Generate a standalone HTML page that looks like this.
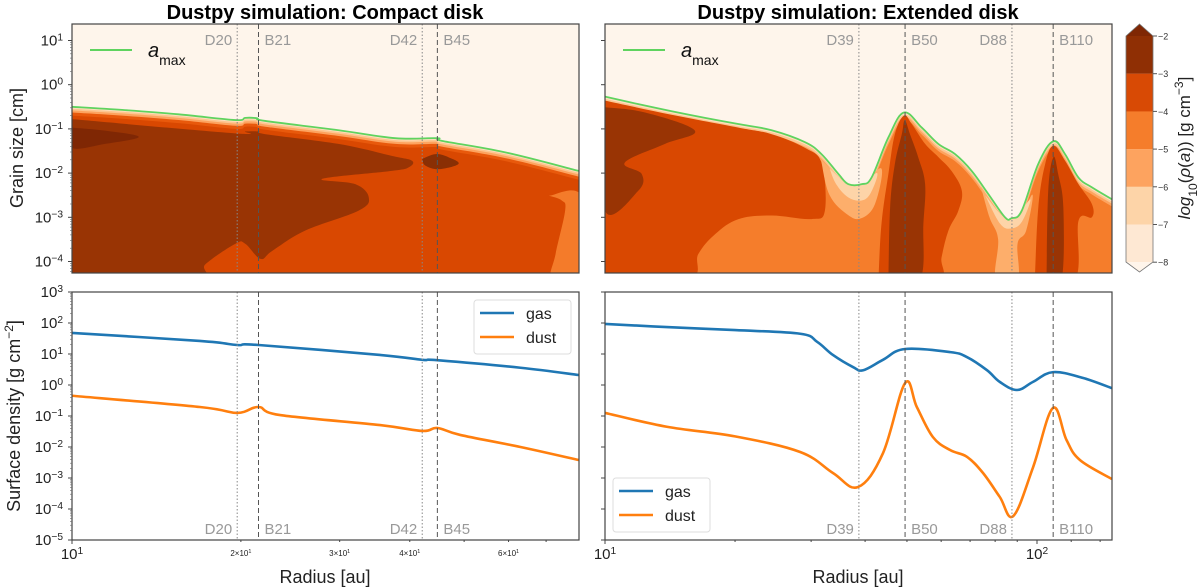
<!DOCTYPE html>
<html><head><meta charset="utf-8">
<style>
html,body{margin:0;padding:0;background:#fff;}
svg{display:block;font-family:"Liberation Sans","DejaVu Sans",sans-serif;}
</style></head>
<body>
<svg id="fig" width="1200" height="587" viewBox="0 0 1200 587" xmlns="http://www.w3.org/2000/svg">
<defs>
<clipPath id="cTL"><rect x="72" y="24" width="507" height="249"/></clipPath>
<clipPath id="cTR"><rect x="605" y="24" width="507" height="249"/></clipPath>
<clipPath id="cBL"><rect x="72" y="292" width="507" height="248"/></clipPath>
<clipPath id="cBR"><rect x="605" y="292" width="507" height="248"/></clipPath>
</defs>
<text x="325" y="19" text-anchor="middle" font-size="20" font-weight="bold">Dustpy simulation: Compact disk</text>
<text x="858" y="19" text-anchor="middle" font-size="20" font-weight="bold">Dustpy simulation: Extended disk</text>
<text transform="translate(23,148) rotate(-90)" text-anchor="middle" font-size="18" fill="#222">Grain size [cm]</text>
<text transform="translate(20,416) rotate(-90)" text-anchor="middle" font-size="18" fill="#222">Surface density [g cm<tspan baseline-shift="super" font-size="12">−2</tspan>]</text>
<text x="325" y="583" text-anchor="middle" font-size="18" fill="#222">Radius [au]</text>
<text x="858" y="583" text-anchor="middle" font-size="18" fill="#222">Radius [au]</text>
<text transform="translate(1190,148) rotate(-90)" text-anchor="middle" font-size="17" fill="#222"><tspan font-style="italic">log</tspan><tspan baseline-shift="sub" font-size="12">10</tspan>(<tspan font-style="italic">ρ</tspan>(<tspan font-style="italic">a</tspan>)) [g cm<tspan baseline-shift="super" font-size="12">−3</tspan>]</text>
<g id="root"></g>
</svg>
<script>
// ---------- data ----------
const ringLabelsL = ["D20","B21","D42","B45"];
const ringRadiiL = [19.7,21.5,42.1,44.8];
const ringLabelsR = ["D39","B50","D88","B110"];
const ringRadiiR = [38.7,49.5,87.5,109];

const gasRL = [10,16.9,19.7,21.5,35.4,42.1,44.8,63,80];
const gasSL = [47.9,26.3,19.5,19.5,9.3,6.5,6.3,3.6,2.1];
const dustRL = [10,16.9,19.7,21.5,23.5,35.4,42.1,44.8,49.2,63,80];
const dustSL = [0.45,0.195,0.126,0.195,0.107,0.051,0.033,0.041,0.0245,0.01,0.0038];

const gasRR = [10,13.9,20,28.3,31,33.7,37.5,39.6,44,49.5,63,68.9,76.6,82,89.9,97.9,109,127.6,149];
const gasSR = [93,74,59,45,24.5,9.3,3.8,3.0,6.5,14.5,11.5,7.9,3.0,1.26,0.69,1.26,2.6,1.7,0.79];
const dustRR = [10,13.9,20,28.3,33.7,38.5,44,49.5,52.7,57.4,63,68.9,75,82,88.1,97.9,108.8,117,125.7,149];
const dustSR = [0.126,0.045,0.022,0.0069,0.00145,0.00051,0.0063,1.15,0.195,0.021,0.0079,0.0048,0.00145,0.000245,0.000059,0.0022,0.18,0.017,0.0038,0.00093];

// a_max lines (radius au, log10 a cm)
const amaxRL = [10,12.28,15.49,19.54,20.37,21.37,22.11,29.88,37.7,44.74,45.65,59.2,80];
const amaxAL = [-0.50,-0.57,-0.67,-0.80,-0.75,-0.76,-0.82,-1.03,-1.21,-1.21,-1.27,-1.53,-1.95];
const amaxRR = [10,11.95,14.27,17.04,20.35,24.31,29.04,31.7,34.7,36.6,39.3,41.4,45.3,49.2,54.1,59.1,64.6,70.6,77.1,84.3,87.3,92.2,100.7,109.1,116.1,124.7,133.9,149];
const amaxAR = [-0.27,-0.44,-0.60,-0.75,-0.89,-1.03,-1.30,-1.57,-2.02,-2.25,-2.25,-2.10,-1.19,-0.63,-0.97,-1.34,-1.57,-1.95,-2.47,-3.00,-3.02,-2.85,-1.79,-1.28,-1.57,-2.10,-2.32,-2.59];

// contour regions as [log10 r, log10 a]
const regL_dark = [[1,-0.78],[1.291,-1.10],[1.309,-1.06],[1.333,-1.06],[1.345,-1.12],[1.475,-1.34],[1.570,-1.61],[1.606,-1.72],[1.600,-1.87],[1.570,-1.95],[1.446,-2.13],[1.505,-2.25],[1.529,-2.55],[1.511,-2.85],[1.416,-3.30],[1.357,-3.76],[1.336,-3.94],[1.309,-3.60],[1.291,-3.60],[1.238,-4.06],[1.220,-4.4],[1,-4.4]];
const regL_core = [[1,-0.97],[1.059,-1.04],[1.119,-1.18],[1.059,-1.34],[1,-1.43]];
const regL_blob = [[1.624,-1.68],[1.648,-1.57],[1.671,-1.64],[1.689,-1.79],[1.654,-1.91],[1.630,-1.83]];
const regL_mid = [[1.850,-2.51],[1.91,-2.55],[1.91,-4.4],[1.856,-4.4],[1.862,-3.83],[1.879,-2.85],[1.873,-2.62]];

const regR_dorange = [[1,-0.36],[1.154,-0.68],[1.309,-0.97],[1.386,-1.12],[1.463,-1.43],[1.502,-1.79],[1.509,-2.85],[1.478,-3.04],[1.386,-2.96],[1.309,-3.04],[1.255,-3.38],[1.216,-3.83],[1.193,-4.4],[1,-4.4]];
const regR_dark = [[1,-0.51],[1.093,-0.63],[1.208,-1.04],[1.139,-1.34],[1.046,-1.76],[1.085,-2.02],[1.077,-2.40],[1,-2.85]];
const regR_b50o = [[1.633,-4.4],[1.640,-3.15],[1.656,-2.02],[1.671,-1.12],[1.692,-0.70],[1.710,-0.89],[1.741,-1.34],[1.772,-1.64],[1.802,-1.95],[1.826,-2.40],[1.818,-2.85],[1.795,-3.30],[1.779,-3.91],[1.772,-4.4]];
const regR_b50d = [[1.656,-4.4],[1.660,-2.78],[1.671,-1.79],[1.687,-1.12],[1.694,-0.81],[1.706,-1.12],[1.725,-1.64],[1.741,-2.25],[1.737,-3.15],[1.729,-4.4]];
const regR_b110o = [[1.995,-4.4],[2.003,-2.78],[2.019,-1.79],[2.038,-1.38],[2.065,-1.72],[2.096,-2.25],[2.127,-2.70],[2.127,-3.00],[2.096,-3.08],[2.088,-4.4]];
const regR_b110d = [[2.022,-4.4],[2.026,-2.40],[2.038,-1.64],[2.049,-2.02],[2.061,-2.78],[2.057,-4.4]];
const regR_g1p = [[1.50,-1.7],[1.563,-2.25],[1.594,-2.25],[1.64,-1.9],[1.625,-2.7],[1.594,-3.02],[1.563,-2.95],[1.52,-2.5]];
const regR_g1l = [[1.52,-1.9],[1.563,-2.25],[1.594,-2.25],[1.63,-2.0],[1.615,-2.45],[1.594,-2.62],[1.563,-2.55],[1.535,-2.25]];
const regR_g2p = [[1.87,-2.3],[1.926,-3.0],[1.965,-2.85],[1.99,-2.5],[1.975,-3.3],[1.955,-3.6],[1.955,-4.4],[1.905,-4.4],[1.91,-3.5],[1.89,-3.0]];
const regR_g2l = [[1.88,-2.5],[1.926,-3.0],[1.96,-2.85],[1.985,-2.6],[1.965,-3.1],[1.941,-3.25],[1.915,-3.15]];

const cbLevels = [-2,-3,-4,-5,-6,-7,-8];
const cbColors = ["#8f2f04","#d84a05","#f57d2b","#fda35f","#fdd4a8","#fee8d3"];

// ---------- helpers ----------
const NS="http://www.w3.org/2000/svg";
const root=document.getElementById('root');
function mk(tag,attrs,parent){const e=document.createElementNS(NS,tag);for(const k in attrs)e.setAttribute(k,attrs[k]);(parent||root).appendChild(e);return e;}
const L10=Math.log10;
const xL=r=>72+(L10(r)-1)*561, xR=r=>605+(L10(r)-1)*432;
const yTop=la=>40.5+(1-la)*44.2;
const yBot=s=>292+(3-L10(s))*31;
function smooth(pts){let d=`M${pts[0][0]},${pts[0][1]}`;for(let i=0;i<pts.length-1;i++){const p0=pts[Math.max(0,i-1)],p1=pts[i],p2=pts[i+1],p3=pts[Math.min(pts.length-1,i+2)];const t=0.18;d+=` C${p1[0]+(p2[0]-p0[0])*t},${p1[1]+(p2[1]-p0[1])*t} ${p2[0]-(p3[0]-p1[0])*t},${p2[1]-(p3[1]-p1[1])*t} ${p2[0]},${p2[1]}`;}return d;}
function poly(reg,xf,g,fill){const pts=reg.map(p=>[xf(Math.pow(10,p[0])),yTop(p[1])]);const e=mk('path',{d:smooth(pts.concat([pts[0]]))+'Z',fill:fill},g);return e;}
function sup(t,x,y,base,exp,anchor,fs,g){const e=mk('text',{x:x,y:y,'text-anchor':anchor,'font-size':fs,fill:'#222'},g);e.textContent=base;const s=mk('tspan',{'baseline-shift':'super','font-size':fs*0.68},e);s.textContent=exp;return e;}

// ---------- top panels ----------
function topPanel(side){
  const isL=side==='L', xf=isL?xL:xR, x0=isL?72:605, clip=isL?'cTL':'cTR';
  const g=mk('g',{'clip-path':`url(#${clip})`});
  
  
  mk('rect',{x:x0,y:24,width:507,height:249,fill:'#fef5eb'},g);
  const R=isL?amaxRL:amaxRR, A=isL?amaxAL:amaxAR;
  const band=(off,col)=>{const pts=R.map((r,i)=>[xf(r),yTop(A[i]-off)]);const d=smooth(pts)+` L${x0+507},300 L${x0},300 Z`;mk('path',{d:d,fill:col},g);};
  band(0,'#fee0c0'); band(isL?0.04:0.05,'#fdc690'); band(isL?0.08:0.1,'#fda35f'); band(isL?0.13:0.16,isL?'#e8590c':'#f57d2b');
  if(isL){
    band(0.2,'#d94801');
    poly(regL_mid,xf,g,'#f47b2a');
    poly(regL_dark,xf,g,'#993404');
    poly(regL_core,xf,g,'#7f2704');
    poly(regL_blob,xf,g,'#8a2f04');
  } else {
    poly(regR_dorange,xf,g,'#d94801');
    poly(regR_dark,xf,g,'#993404');
    poly(regR_g1p,xf,g,'#fdae6b');
    poly(regR_g1l,xf,g,'#fdd4a8');
    poly(regR_g2p,xf,g,'#fdae6b');
    poly(regR_g2l,xf,g,'#fdd4a8');
    poly(regR_b50o,xf,g,'#d94801');
    poly(regR_b50d,xf,g,'#993404');
    poly(regR_b110o,xf,g,'#d94801');
    poly(regR_b110d,xf,g,'#993404');
  }
  // cover above a_max
  const pts=R.map((r,i)=>[xf(r),yTop(A[i])]);
  mk('path',{d:smooth(pts)+` L${x0+507},20 L${x0},20 Z`,fill:'#fef5eb'},g);
  const am=mk('path',{d:smooth(pts),fill:'none',stroke:'#5fd35f','stroke-width':1.8},g);
  
  
}
topPanel('L'); topPanel('R');

// ---------- bottom panels ----------
function botPanel(side){
  const isL=side==='L', xf=isL?xL:xR, clip=isL?'cBL':'cBR';
  const g=mk('g',{'clip-path':`url(#${clip})`});
  
  
  const gr=isL?gasRL:gasRR, gs=isL?gasSL:gasSR, dr=isL?dustRL:dustRR, ds=isL?dustSL:dustSR;
  const gl=mk('path',{d:smooth(gr.map((r,i)=>[xf(r),yBot(gs[i])])),fill:'none',stroke:'#1f77b4','stroke-width':2.6},g);
  
  
  const dl=mk('path',{d:smooth(dr.map((r,i)=>[xf(r),yBot(ds[i])])),fill:'none',stroke:'#ff7f0e','stroke-width':2.6},g);
  
  
}
botPanel('L'); botPanel('R');

// ---------- ring lines & labels ----------
function rings(side){
  const isL=side==='L', xf=isL?xL:xR, labs=isL?ringLabelsL:ringLabelsR, rr=isL?ringRadiiL:ringRadiiR;
  rr.forEach((r,i)=>{
    const x=xf(r), isB=labs[i][0]==='B';
    [[24,273],[292,540]].forEach(([a,b],k)=>{
      const l=mk('line',{x1:x,x2:x,y1:a,y2:b,stroke:isB?'#555':'#888','stroke-width':1,'stroke-dasharray':isB?'5,3':'1.5,2'});
      
      
      const t=mk('text',{x:isB?x+6:x-5,y:k?534:45,'text-anchor':isB?'start':'end','font-size':15,fill:'#999'});
      t.textContent=labs[i];
      
      
    });
  });
}
rings('L'); rings('R');

// ---------- frames & ticks ----------
[[72,24,249],[605,24,249],[72,292,248],[605,292,248]].forEach(([x,y,h])=>{
  const f=mk('rect',{x:x,y:y,width:507,height:h,fill:'none',stroke:'#444','stroke-width':1.2});
  
  
});
const topTicks=[1,0,-1,-2,-3,-4], botTicks=[3,2,1,0,-1,-2,-3,-4,-5];
topTicks.forEach(e=>{const y=yTop(e);
  mk('line',{x1:68,x2:72,y1:y,y2:y,stroke:'#444'});mk('line',{x1:601,x2:605,y1:y,y2:y,stroke:'#444'});
  for(let m=2;m<10;m++){const ym=yTop(e-1+L10(m));if(ym>24&&ym<273){mk('line',{x1:70,x2:72,y1:ym,y2:ym,stroke:'#666','stroke-width':0.6});}}
  const t=sup(null,63,y+5,'10',String(e).replace('-','−'),'end',15);
  
  
});
botTicks.forEach(e=>{const y=yBot(Math.pow(10,e));
  mk('line',{x1:68,x2:72,y1:y,y2:y,stroke:'#444'});mk('line',{x1:601,x2:605,y1:y,y2:y,stroke:'#444'});
  for(let m=2;m<10;m++){const ym=yBot(Math.pow(10,e-1)*m);if(ym>292&&ym<540){mk('line',{x1:70,x2:72,y1:ym,y2:ym,stroke:'#666','stroke-width':0.6});}}
  const t=sup(null,63,y+5,'10',String(e).replace('-','−'),'end',15);
  
  
});
// x ticks
[[xL,[10],[2,3,4,6],80],[xR,[10,100],[20,30,40,50,60,70,80,90],150]].forEach(([xf,maj,mins])=>{
  maj.forEach(v=>{const x=xf(v);mk('line',{x1:x,x2:x,y1:540,y2:544,stroke:'#444'});
    const t=sup(null,x,559,'10',String(L10(v)),'middle',15);
    
    });
});
[20,30,40,50,60,70].forEach(v=>{const x=xL(v);mk('line',{x1:x,x2:x,y1:540,y2:542,stroke:'#444'});});
[2,3,4,6].forEach(m=>{const x=xL(m*10);const t=sup(null,x,556,m+'×10','1','middle',8);
  
  });
[20,30,40,50,60,70,80,90,120,140].forEach(v=>{const x=xR(v);mk('line',{x1:x,x2:x,y1:540,y2:542,stroke:'#444'});});

// ---------- legends ----------
[[90,50],[623,50]].forEach(([x,y])=>{
  const g=mk('g',{});
  
  
  mk('line',{x1:x,x2:x+42,y1:y,y2:y,stroke:'#5fd35f','stroke-width':2},g);
  const t=mk('text',{x:x+58,y:y+7,'font-size':20,'font-style':'italic',fill:'#111'},g);t.textContent='a';
  const s=mk('tspan',{'baseline-shift':'sub','font-size':14,'font-style':'normal'},t);s.textContent='max';
});
[[474,300],[613,478]].forEach(([x,y])=>{
  const g=mk('g',{});
  
  
  mk('rect',{x:x,y:y,width:97,height:54,rx:3,fill:'#fff',stroke:'#ddd'},g);
  [['gas','#1f77b4',16],['dust','#ff7f0e',40]].forEach(([n,c,dy])=>{
    const l=mk('line',{x1:x+6,x2:x+40,y1:y+dy-3,y2:y+dy-3,stroke:c,'stroke-width':2.6},g);
    
    
    const t=mk('text',{x:x+52,y:y+dy+3,'font-size':16,fill:'#222'},g);t.textContent=n;
  });
});

// ---------- colorbar ----------
const cb=mk('g',{});


const cbY=v=>36+(-2-v)*37.7;
cbColors.forEach((c,i)=>{mk('rect',{x:1126,y:cbY(cbLevels[i]),width:27,height:37.8,fill:c},cb);});
mk('path',{d:`M1126,36 L1139.5,24 L1153,36 Z`,fill:'#7f2704'},cb);
mk('path',{d:`M1126,262 L1139.5,272 L1153,262 Z`,fill:'#fff5eb'},cb);
mk('path',{d:`M1126,36 L1139.5,24 L1153,36 L1153,262 L1139.5,272 L1126,262 Z`,fill:'none',stroke:'#777','stroke-width':0.8},cb);
cbLevels.forEach(v=>{const y=cbY(v);mk('line',{x1:1153,x2:1157,y1:y,y2:y,stroke:'#555'},cb);
  const t=mk('text',{x:1158,y:y+3.5,'font-size':9,fill:'#333'},cb);t.textContent='−'+Math.abs(v);
  
  });
</script>
</body></html>
